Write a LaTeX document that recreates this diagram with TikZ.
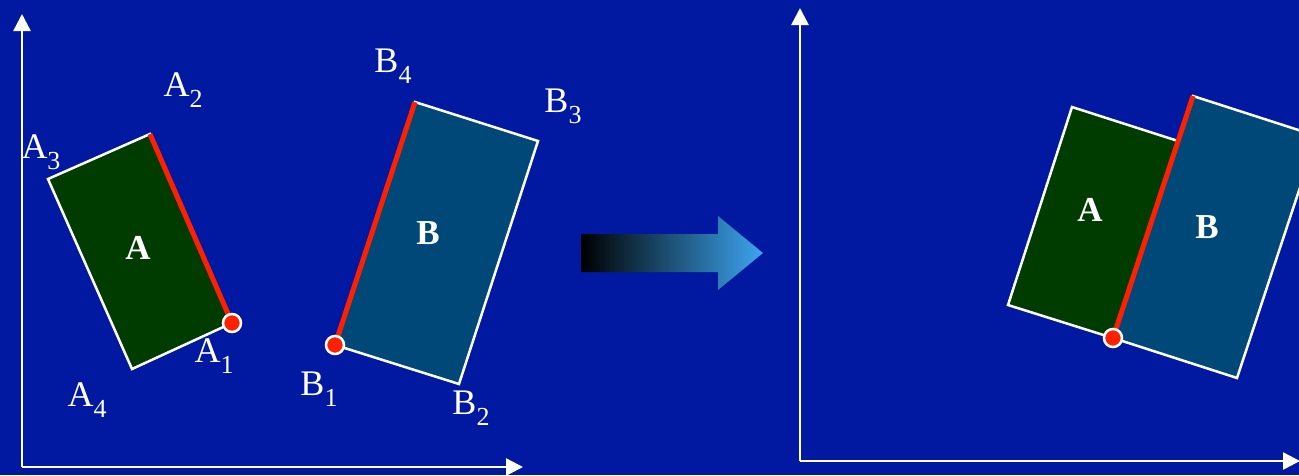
\documentclass[tikz,border=0pt]{standalone}
\usepackage{fontspec}
\setmainfont{Liberation Serif}
\usetikzlibrary{arrows.meta}
\definecolor{bg}{RGB}{0,25,160}
\definecolor{agreen}{RGB}{0,60,0}
\definecolor{bteal}{RGB}{0,72,120}
\definecolor{redl}{RGB}{255,32,0}
\definecolor{arrowblue}{RGB}{60,165,240}
\newcommand{\sbs}[1]{\raisebox{-0.3em}{\fontsize{26}{28}\selectfont #1}}
\tikzset{
  axis/.style={draw=white, line width=2.5pt, -{Triangle[width=17pt,length=17pt]}},
  rectA/.style={fill=agreen, draw=white, line width=2.5pt, line join=miter},
  rectB/.style={fill=bteal, draw=white, line width=2.5pt, line join=miter},
  redge/.style={draw=redl, line width=5pt},
  rdot/.style={circle, fill=redl, draw=white, line width=2.5pt, minimum size=18pt, inner sep=0pt},
  vlabel/.style={text=white, font=\fontsize{36}{40}\selectfont, inner sep=0pt},
  blabel/.style={text=white, font=\fontsize{35}{38}\selectfont\bfseries, inner sep=0pt}
}
\begin{document}
\begin{tikzpicture}[x=1pt,y=-1pt]
\fill[bg] (0,0) rectangle (1299,475);
\useasboundingbox (0,0) rectangle (1299,475);
% left axes
\coordinate (o1) at (22,467);
\coordinate (y1) at (22,14);
\coordinate (x1) at (523,467);
\draw[axis] (o1) -- (y1);
\draw[axis] (o1) -- (x1);
% right axes
\coordinate (o2) at (800,461);
\coordinate (y2) at (800,8);
\coordinate (x2) at (1300,461);
\draw[axis] (o2) -- (y2);
\draw[axis] (o2) -- (x2);
% left rectangle A
\coordinate (a1) at (232,323);
\coordinate (a2) at (150,134);
\coordinate (a3) at (48,179);
\coordinate (a4) at (132,369);
\draw[rectA] (a1) -- (a2) -- (a3) -- (a4) -- cycle;
\draw[redge] (a1) -- (a2);
\node[rdot] (da) at (a1) {};
% left rectangle B
\coordinate (b1) at (335,345);
\coordinate (b2) at (459,384);
\coordinate (b3) at (538,141);
\coordinate (b4) at (415,102);
\draw[rectB] (b1) -- (b2) -- (b3) -- (b4) -- cycle;
\draw[redge] (b1) -- (b4);
\node[rdot] (db) at (b1) {};
% labels
\node[blabel] (la) at (138,248) {A};
\node[blabel] (lb) at (428,233) {B};
\node[vlabel] (ta2) at (183,90) {A\sbs{2}};
\node[vlabel] (ta3) at (41,152) {A\sbs{3}};
\node[vlabel] (ta4) at (87,400) {A\sbs{4}};
\node[vlabel] (ta1) at (214,356) {A\sbs{1}};
\node[vlabel] (tb4) at (393,66) {B\sbs{4}};
\node[vlabel] (tb3) at (563,106) {B\sbs{3}};
\node[vlabel] (tb1) at (319,389) {B\sbs{1}};
\node[vlabel] (tb2) at (471,408) {B\sbs{2}};
% middle arrow
\shade[left color=black, right color=arrowblue, shading angle=90]
  (581,234) -- (718,234) -- (718,216) -- (763,253) -- (718,290) -- (718,272) -- (581,272) -- cycle;
% right picture
\begin{scope}
\clip (0,0) rectangle (1299,475);
\coordinate (c1) at (1113,338);
\coordinate (c2) at (1178,141);
\coordinate (c3) at (1072,107);
\coordinate (c4) at (1008,305);
\coordinate (e2) at (1237,378);
\coordinate (e3) at (1317,136);
\coordinate (e4) at (1193,96);
\draw[rectA] (c1) -- (c2) -- (c3) -- (c4) -- cycle;
\draw[rectB] (c1) -- (e2) -- (e3) -- (e4) -- cycle;
\draw[redge] (c1) -- (e4);
\end{scope}
\node[rdot] (dc) at (c1) {};
\node[blabel] (ra) at (1090,210) {A};
\node[blabel] (rb) at (1207,227) {B};
\end{tikzpicture}
\end{document}
